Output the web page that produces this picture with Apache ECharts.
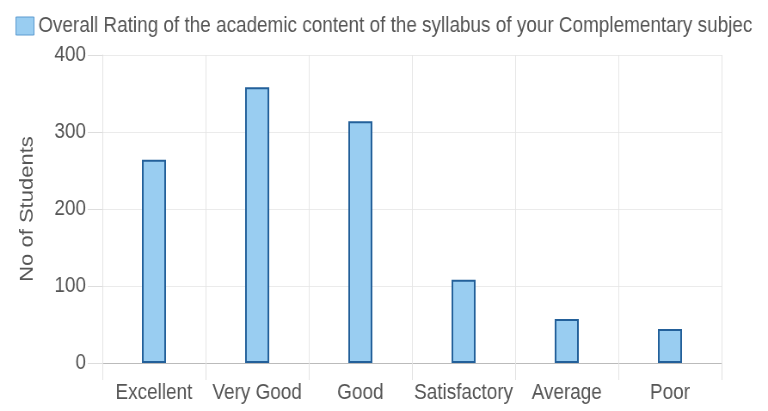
<!DOCTYPE html>
<html><head><meta charset="utf-8">
<script src="https://cdn.jsdelivr.net/npm/echarts@6/dist/echarts.min.js"></script>
<style>
html,body{margin:0;padding:0;background:#fff;overflow:hidden}
#wrap{width:768px;height:411px;overflow:hidden;position:relative}
#c{width:893px;height:411px;transform:scaleX(0.86);transform-origin:0 0;position:absolute;left:0;top:0}
</style>
</head><body><div id="wrap"><div id="c"></div></div>
<script>
const categories = ["Excellent", "Very Good", "Good", "Satisfactory", "Average", "Poor"];
const values = [264, 358, 314, 108, 57, 44];
const seriesName = "Overall Rating of the academic content of the syllabus of your Complementary subject";
const yTicks = [0, 100, 200, 300, 400];
const yAxisName = "No of Students";

const FONT = '"Liberation Sans", Arial, sans-serif';
const chart = echarts.init(document.getElementById('c'), null, {renderer: 'canvas'});
chart.setOption({
  animation: false,
  legend: {
    left: 13, top: 10,
    icon: 'rect',
    itemWidth: 21, itemHeight: 18,
    itemGap: 6,
    data: [seriesName],
    itemStyle: {color: '#99cdf1', borderColor: '#5d9bd0', borderWidth: 1},
    textStyle: {
      fontFamily: FONT, fontSize: 22, color: '#555',
      width: 837, overflow: 'truncate', ellipsis: ''
    }
  },
  grid: {left: 119, right: 54, top: 55, bottom: 48},
  xAxis: {
    type: 'category',
    data: categories,
    boundaryGap: true,
    axisLine: {lineStyle: {color: '#bbb', width: 1}},
    axisTick: {show: true, interval: 0, length: 17, lineStyle: {color: '#e2e2e2'}},
    splitLine: {show: true, interval: 0, lineStyle: {color: '#e6e6e6'}},
    axisLabel: {interval: 0, fontFamily: FONT, fontSize: 22, color: '#555', margin: 19}
  },
  yAxis: {
    type: 'value',
    min: yTicks[0], max: yTicks[yTicks.length - 1], interval: 100,
    name: yAxisName,
    nameLocation: 'middle',
    nameGap: 76,
    nameRotate: 90,
    nameTextStyle: {fontFamily: FONT, fontSize: 22, color: '#555'},
    axisLine: {show: true, lineStyle: {color: '#e2e2e2'}},
    axisTick: {show: true, length: 17, lineStyle: {color: '#ddd'}},
    splitLine: {show: true, lineStyle: {color: '#ebebeb'}},
    axisLabel: {fontFamily: FONT, fontSize: 22, color: '#555', margin: 19}
  },
  series: [{
    name: seriesName,
    type: 'bar',
    data: values,
    barWidth: 28,
    itemStyle: {color: '#99cdf1', borderColor: '#23609a', borderWidth: 2}
  }]
});
</script></body></html>
